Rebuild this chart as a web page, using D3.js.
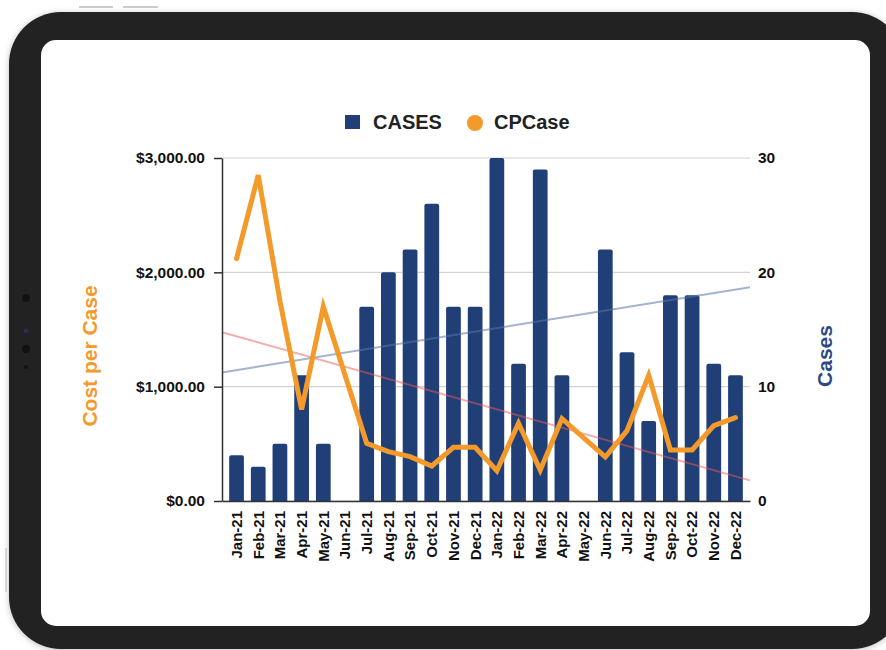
<!DOCTYPE html>
<html>
<head>
<meta charset="utf-8">
<script src="https://cdn.jsdelivr.net/npm/d3@7"></script>
<style>
    body { margin: 0; background: #fff; }
    text { font-family: 'Liberation Sans', Arial, sans-serif; font-weight: bold; }
</style>
</head>
<body>
<script>
// months on the x axis
const months = ['Jan-21', 'Feb-21', 'Mar-21', 'Apr-21', 'May-21', 'Jun-21', 'Jul-21', 'Aug-21',
    'Sep-21', 'Oct-21', 'Nov-21', 'Dec-21', 'Jan-22', 'Feb-22', 'Mar-22', 'Apr-22', 'May-22',
    'Jun-22', 'Jul-22', 'Aug-22', 'Sep-22', 'Oct-22', 'Nov-22', 'Dec-22']

// null = no entry for that month
const cases = [4, 3, 5, 11, 5, null, 17, 20, 22, 26, 17, 17, 30, 12, 29, 11, null, 22, 13, 7, 18, 18, 12, 11]
const cpCase = [2120, 2850, 1750, 800, 1700, null, 505, 432, 388, 306, 470, 470, 265, 680, 270, 720, null,
    385, 615, 1100, 446, 446, 659, 729]

const costTicks = [0, 1000, 2000, 3000]
const caseTicks = [0, 10, 20, 30]

const data = months.map((m, i) => ({ name: m, i: i, cases: cases[i], cp: cpCase[i] }))

const W = 886, H = 650
const svg = d3.select('body').append('svg')
    .attr('width', W)
    .attr('height', H)

// tablet frame
const defs = svg.append('defs')
const shadow = defs.append('filter').attr('id', 'shadow')
    .attr('x', '-10%').attr('y', '-10%').attr('width', '120%').attr('height', '120%')
shadow.append('feDropShadow')
    .attr('dx', 0).attr('dy', 1).attr('stdDeviation', 3)
    .attr('flood-color', '#000').attr('flood-opacity', 0.25)

svg.append('rect')
    .attr('x', 9).attr('y', 12)
    .attr('width', 895).attr('height', 637)
    .attr('rx', 52)
    .attr('fill', '#222222')
    .attr('filter', 'url(#shadow)')

svg.append('rect')
    .attr('x', 41).attr('y', 40)
    .attr('width', 829).attr('height', 586)
    .attr('rx', 15)
    .attr('fill', '#fff')

// buttons + camera
svg.append('line').attr('x1', 79).attr('x2', 113).attr('y1', 7).attr('y2', 7)
    .attr('stroke', '#bbb').attr('stroke-width', 1.5)
svg.append('line').attr('x1', 123).attr('x2', 158).attr('y1', 7).attr('y2', 7)
    .attr('stroke', '#bbb').attr('stroke-width', 1.5)
svg.append('line').attr('x1', 6).attr('x2', 6).attr('y1', 548).attr('y2', 592)
    .attr('stroke', '#ccc').attr('stroke-width', 1.5)
const cam = [[298, 4, '#111'], [331, 2.5, '#2a2a55'], [349, 4, '#111'], [367, 2, '#111']]
svg.selectAll('circle.cam')
    .data(cam)
    .enter().append('circle')
    .attr('class', 'cam')
    .attr('cx', 26)
    .attr('cy', d => d[0])
    .attr('r', d => d[1])
    .attr('fill', d => d[2])

// plot area
const plot = { left: 222, right: 750, top: 158, bottom: 501 }
const navy = '#213f77'
const orange = '#f39a2b'

const xScale = d3.scaleBand()
    .domain(months)
    .range([plot.left, plot.right])
    .paddingInner(0.32)
    .paddingOuter(0.33)

const yCost = d3.scaleLinear()
    .domain([0, 3000])
    .range([plot.bottom, plot.top])

const yCases = d3.scaleLinear()
    .domain([0, 30])
    .range([plot.bottom, plot.top])

const g = svg.append('g')

// gridlines
g.selectAll('line.grid')
    .data(costTicks)
    .enter().append('line')
    .attr('class', 'grid')
    .attr('x1', plot.left)
    .attr('x2', plot.right)
    .attr('y1', d => yCost(d))
    .attr('y2', d => yCost(d))
    .attr('stroke', '#d2d2d2')
    .attr('stroke-width', 1.2)

// bars, small rounded top
const bw = xScale.bandwidth()
const r = 2
g.selectAll('path.bar')
    .data(data.filter(d => d.cases))
    .enter().append('path')
    .attr('class', 'bar')
    .attr('fill', navy)
    .attr('d', d => {
        const x0 = xScale(d.name), x1 = x0 + bw
        const y0 = yCases(d.cases), y1 = yCases(0)
        return `M${x0},${y1}V${y0 + r}Q${x0},${y0} ${x0 + r},${y0}H${x1 - r}Q${x1},${y0} ${x1},${y0 + r}V${y1}Z`
    })

// linear trend, least squares over months with values
function trend(key) {
    const pts = data.filter(d => d[key] != null)
    const mx = d3.mean(pts, d => d.i)
    const my = d3.mean(pts, d => d[key])
    const sxy = d3.sum(pts, d => (d.i - mx) * (d[key] - my))
    const sxx = d3.sum(pts, d => (d.i - mx) ** 2)
    const slope = sxy / sxx
    return i => my + slope * (i - mx)
}

const center = name => xScale(name) + bw / 2
const step = xScale.step()
const iLeft = (plot.left - center(months[0])) / step
const iRight = (plot.right - center(months[0])) / step

const caseTrend = trend('cases')
const cpTrend = trend('cp')

g.append('line')
    .attr('x1', plot.left).attr('x2', plot.right)
    .attr('y1', yCases(caseTrend(iLeft)))
    .attr('y2', yCases(caseTrend(iRight)))
    .attr('stroke', '#5a75a6')
    .attr('stroke-opacity', 0.55)
    .attr('stroke-width', 2)

g.append('line')
    .attr('x1', plot.left).attr('x2', plot.right)
    .attr('y1', yCost(cpTrend(iLeft)))
    .attr('y2', yCost(cpTrend(iRight)))
    .attr('stroke', '#ee5a5a')
    .attr('stroke-opacity', 0.5)
    .attr('stroke-width', 2)

// cost per case line (gaps joined)
const line = d3.line()
    .x(d => center(d.name))
    .y(d => yCost(d.cp))

g.append('path')
    .datum(data.filter(d => d.cp != null))
    .attr('d', line)
    .attr('fill', 'none')
    .attr('stroke', orange)
    .attr('stroke-width', 5)
    .attr('stroke-linecap', 'round')
    .attr('stroke-linejoin', 'miter')

// axes
const xAxis = d3.axisBottom(xScale).tickSize(0).tickSizeOuter(0)
const gx = g.append('g')
    .attr('transform', `translate(0,${plot.bottom})`)
    .call(xAxis)
gx.select('.domain').attr('stroke', '#333').attr('stroke-width', 1.5)
gx.selectAll('text')
    .attr('transform', 'rotate(-90)')
    .attr('x', -10)
    .attr('y', 0)
    .attr('dy', '0.36em')
    .attr('text-anchor', 'end')
    .attr('fill', '#111')
    .style('font-size', '15px')

const yAxisLeft = d3.axisLeft(yCost)
    .tickValues(costTicks)
    .tickFormat(d => '$' + d3.format(',.2f')(d))
    .tickSize(8)
    .tickSizeOuter(0)
    .tickPadding(9)
const gyl = g.append('g')
    .attr('transform', `translate(${plot.left},0)`)
    .call(yAxisLeft)
gyl.selectAll('.domain, line').attr('stroke', '#333').attr('stroke-width', 1.5)
gyl.selectAll('text').attr('fill', '#111').style('font-size', '15.5px')

const yAxisRight = d3.axisRight(yCases)
    .tickValues(caseTicks)
    .tickSize(0)
    .tickPadding(8)
const gyr = g.append('g')
    .attr('transform', `translate(${plot.right},0)`)
    .call(yAxisRight)
gyr.select('.domain').remove()
gyr.selectAll('text').attr('fill', '#111').style('font-size', '15.5px')

// axis titles
svg.append('text')
    .attr('transform', 'translate(97,356) rotate(-90)')
    .attr('text-anchor', 'middle')
    .attr('fill', orange)
    .style('font-size', '21px')
    .text('Cost per Case')

svg.append('text')
    .attr('transform', 'translate(832,356) rotate(-90)')
    .attr('text-anchor', 'middle')
    .attr('fill', '#2c4a82')
    .style('font-size', '21px')
    .text('Cases')

// legend
const legend = svg.append('g').attr('transform', 'translate(345,122)')
legend.append('rect')
    .attr('x', 0).attr('y', -7)
    .attr('width', 15).attr('height', 14)
    .attr('fill', navy)
legend.append('text')
    .attr('x', 28).attr('y', 7)
    .attr('fill', '#222')
    .style('font-size', '20px')
    .text('CASES')
legend.append('circle')
    .attr('cx', 130).attr('cy', 1)
    .attr('r', 8)
    .attr('fill', orange)
legend.append('text')
    .attr('x', 149).attr('y', 7)
    .attr('fill', '#222')
    .style('font-size', '20px')
    .text('CPCase')
</script>
</body>
</html>
